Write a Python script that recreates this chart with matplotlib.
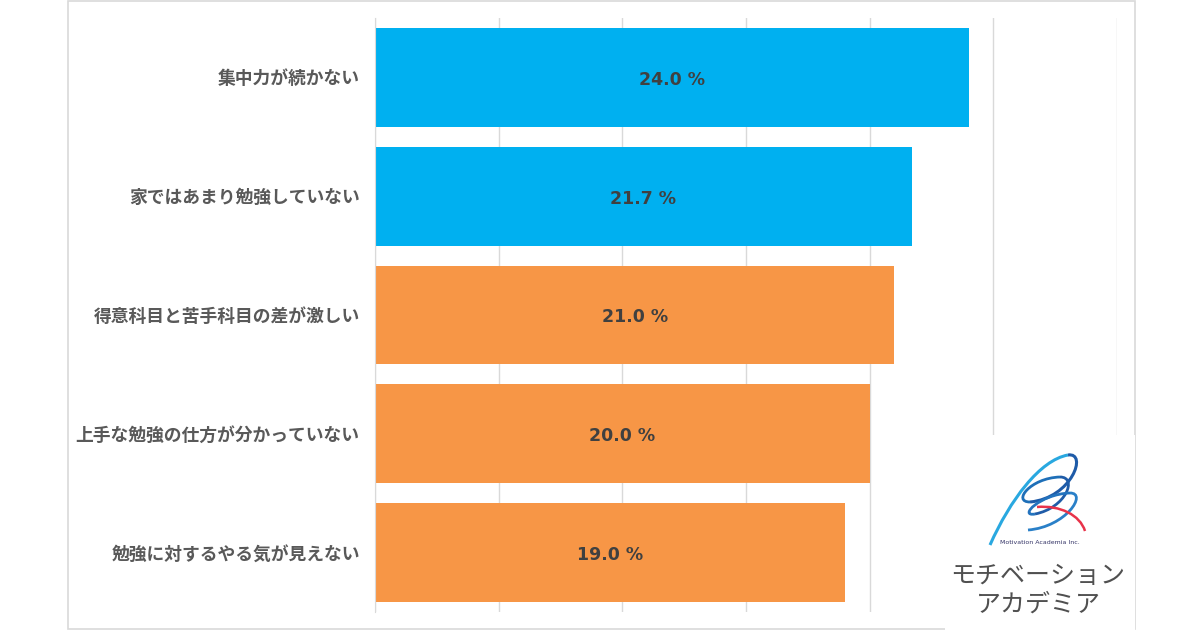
import matplotlib
matplotlib.use("Agg")
import matplotlib.pyplot as plt
import numpy as np
from matplotlib.patches import Rectangle
from matplotlib.path import Path
from matplotlib.patches import PathPatch

plt.rcParams['font.family'] = ['Noto Sans CJK JP', 'DejaVu Sans']

categories = ["集中力が続かない", "家ではあまり勉強していない", "得意科目と苦手科目の差が激しい",
              "上手な勉強の仕方が分かっていない", "勉強に対するやる気が見えない"]
values = [24.0, 21.7, 21.0, 20.0, 19.0]
colors = ["#00B0F0", "#00B0F0", "#F79646", "#F79646", "#F79646"]
value_labels = ["24.0 %", "21.7 %", "21.0 %", "20.0 %", "19.0 %"]

W, H = 1200, 630
fig = plt.figure(figsize=(12, 6.3), dpi=100)
fig.patch.set_facecolor("white")

# outer frame
fig.patches.append(Rectangle((68 / W, 1 - 629 / H), (1135 - 68) / W, (629 - 1) / H,
                             transform=fig.transFigure, fill=False, edgecolor="#D9D9D9", lw=1.2, zorder=0))

ax = fig.add_axes([375 / W, 1 - 612 / H, (1117 - 375) / W, (612 - 18) / H])
y = np.arange(len(categories))
ax.barh(y, values, height=0.83, color=colors, zorder=2)
ax.set_xlim(0, 30)
ax.set_ylim(len(categories) - 0.5, -0.5)
ax.set_xticks(np.arange(0, 31, 5))
ax.xaxis.grid(True, color="#D9D9D9", lw=1)
ax.set_axisbelow(True)
ax.tick_params(axis='x', length=0, labelbottom=False)
ax.tick_params(axis='y', length=0, pad=11)
ax.set_yticks(y)
ax.set_yticklabels(categories, fontsize=12.8, fontweight='bold', color="#595959")
for s in ["top", "right", "bottom"]:
    ax.spines[s].set_visible(False)
ax.spines["left"].set_color("#D9D9D9")
for yi, v, lab in zip(y, values, value_labels):
    ax.text(v / 2, yi + 0.02, lab, ha='center', va='center', fontsize=12.5, fontweight='bold', color="#404040",
            family=['DejaVu Sans'], zorder=3)

# logo box
fig.patches.append(Rectangle((945 / W, 0), (1135 - 945) / W, (630 - 435) / H,
                             transform=fig.transFigure, facecolor="white", edgecolor="none", zorder=5))

def P(x, yy):
    return (x / W, 1 - yy / H)

def curve(pts, color, lw):
    verts = [P(*p) for p in pts]
    codes = [Path.MOVETO] + [Path.CURVE4] * (len(verts) - 1)
    fig.patches.append(PathPatch(Path(verts, codes), transform=fig.transFigure, fill=False,
                                 edgecolor=color, lw=lw, zorder=6))

curve([(990, 545), (1010, 500), (1040, 460), (1068, 455)], "#29A8E0", 2.2)
curve([(1068, 455), (1088, 452), (1072, 498), (1030, 502)], "#1E5BA8", 2.2)
curve([(1030, 502), (1012, 502), (1030, 478), (1060, 477)], "#1E6FB8", 2.0)
curve([(1060, 477), (1078, 477), (1066, 508), (1035, 514)], "#1F5CA8", 2.0)
curve([(1035, 514), (1018, 517), (1040, 494), (1070, 493)], "#2373BE", 2.0)
curve([(1070, 493), (1088, 493), (1066, 527), (1028, 530)], "#2A80C8", 2.0)
curve([(1037, 507), (1060, 505), (1080, 515), (1085, 531)], "#E8334A", 1.8)

fig.text(1040 / W, 1 - 542 / H, "Motivation Academia Inc.", fontsize=4.5, color="#333366",
         ha='center', va='center', family=['DejaVu Sans'], zorder=7)
fig.text(1038 / W, 1 - 576 / H, "モチベーション", fontsize=18, color="#505050",
         ha='center', va='center', fontweight='normal', zorder=7)
fig.text(1038 / W, 1 - 605 / H, "アカデミア", fontsize=18, color="#505050",
         ha='center', va='center', fontweight='normal', zorder=7)

fig.savefig("out.png", dpi=100, facecolor="white")
